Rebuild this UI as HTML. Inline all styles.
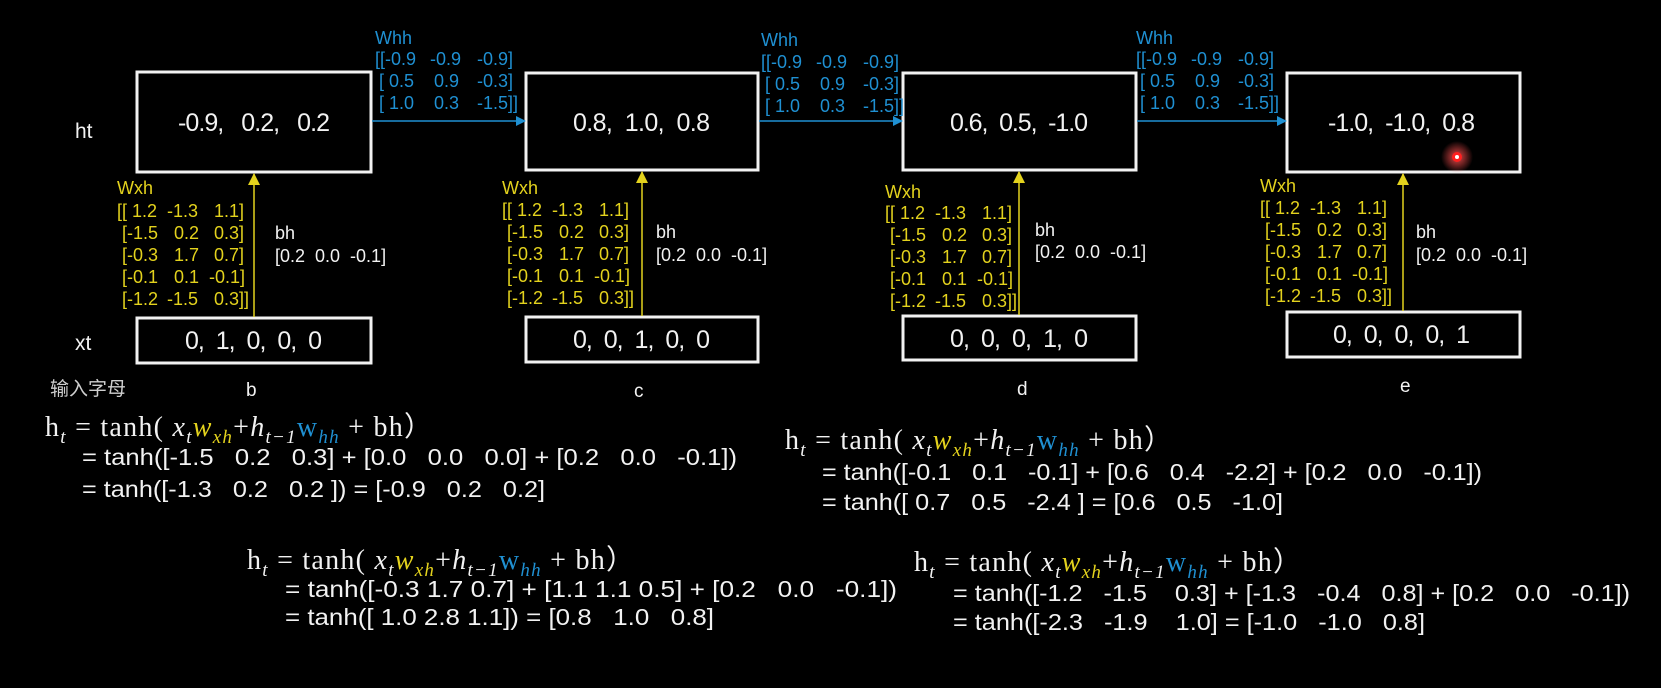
<!DOCTYPE html>
<html><head><meta charset="utf-8"><style>
html,body{margin:0;padding:0;background:#000;width:1661px;height:688px;overflow:hidden}
svg{display:block}
text{white-space:pre}
.s{font-family:"Liberation Sans","Noto Sans CJK SC",sans-serif}
.w{fill:#f2f2f2}
.y{fill:#e3d21d}
.b{fill:#1f90d2}
.m{font-size:18px}
.f{font-family:"Liberation Serif",serif;font-size:28px;fill:#f2f2f2}
.fl{font-family:"Liberation Sans",sans-serif;font-size:23px;fill:#f2f2f2}
</style></head><body>
<svg width="1661" height="688" viewBox="0 0 1661 688" xmlns="http://www.w3.org/2000/svg">
<defs>
<marker id="ab" markerWidth="10" markerHeight="10" refX="9" refY="5" orient="auto" markerUnits="userSpaceOnUse"><path d="M0,0 L10,5 L0,10 z" fill="#1f90d2"/></marker>
<marker id="ay" markerWidth="12" markerHeight="12" refX="11" refY="6" orient="auto" markerUnits="userSpaceOnUse"><path d="M0,0 L12,6 L0,12 z" fill="#e3d21d"/></marker>
<radialGradient id="glow"><stop offset="0" stop-color="#ff5050" stop-opacity="0.9"/><stop offset="1" stop-color="#ff5050" stop-opacity="0"/></radialGradient>
</defs>
<g fill="none" stroke="#f2f2f2" stroke-width="3">
<rect x="137" y="72" width="234" height="100"/><rect x="137" y="318" width="234" height="45"/>
<rect x="526" y="73" width="232" height="97"/><rect x="526" y="317" width="232" height="45"/>
<rect x="903" y="73" width="233" height="97"/><rect x="903" y="316" width="233" height="44"/>
<rect x="1287" y="73" width="233" height="99"/><rect x="1287" y="312" width="233" height="45"/>
</g>
<g stroke="#1f90d2" stroke-width="1.5">
<line x1="372" y1="121" x2="525" y2="121" marker-end="url(#ab)"/>
<line x1="759" y1="121" x2="902" y2="121" marker-end="url(#ab)"/>
<line x1="1137" y1="121" x2="1286" y2="121" marker-end="url(#ab)"/>
</g>
<g stroke="#e3d21d" stroke-width="1.5">
<line x1="254" y1="317" x2="254" y2="174" marker-end="url(#ay)"/>
<line x1="642" y1="316" x2="642" y2="172" marker-end="url(#ay)"/>
<line x1="1019" y1="315" x2="1019" y2="172" marker-end="url(#ay)"/>
<line x1="1403" y1="311" x2="1403" y2="174" marker-end="url(#ay)"/>
</g>
<circle cx="1457" cy="157" r="16" fill="url(#glow)"/>
<circle cx="1457" cy="157" r="5" fill="#ff2020"/><circle cx="1457" cy="157" r="2" fill="#fff"/>

<g class="s w" style="font-size:25px">
<text x="178" y="131" textLength="152" lengthAdjust="spacing">-0.9,   0.2,   0.2</text>
<text x="573" y="131" textLength="137" lengthAdjust="spacing">0.8,  1.0,  0.8</text>
<text x="950" y="131" textLength="138" lengthAdjust="spacing">0.6,  0.5,  -1.0</text>
<text x="1328" y="131" textLength="147" lengthAdjust="spacing">-1.0,  -1.0,  0.8</text>
<text x="185" y="349" textLength="137" lengthAdjust="spacing">0,  1,  0,  0,  0</text>
<text x="573" y="348" textLength="137" lengthAdjust="spacing">0,  0,  1,  0,  0</text>
<text x="950" y="347" textLength="138" lengthAdjust="spacing">0,  0,  0,  1,  0</text>
<text x="1333" y="343" textLength="137" lengthAdjust="spacing">0,  0,  0,  0,  1</text>
</g>
<g class="s w" style="font-size:21px">
<text x="75" y="138">ht</text><text x="75" y="350">xt</text>
<text x="246" y="396" style="font-size:19px">b</text>
<text x="634" y="397" style="font-size:19px">c</text>
<text x="1017" y="395" style="font-size:19px">d</text>
<text x="1400" y="392" style="font-size:19px">e</text>
<text x="50" y="395" style="font-size:19px;fill:#cfcfcf">输入字母</text>
</g>

<g class="s b m">
<text x="375" y="44">Whh</text>
<text y="65"><tspan x="375">[[-0.9</tspan><tspan x="430">-0.9</tspan><tspan x="477">-0.9]</tspan></text>
<text y="87"><tspan x="379">[ 0.5</tspan><tspan x="434">0.9</tspan><tspan x="477">-0.3]</tspan></text>
<text y="109"><tspan x="379">[ 1.0</tspan><tspan x="434">0.3</tspan><tspan x="477">-1.5]]</tspan></text>
<text x="761" y="46">Whh</text>
<text y="68"><tspan x="761">[[-0.9</tspan><tspan x="816">-0.9</tspan><tspan x="863">-0.9]</tspan></text>
<text y="90"><tspan x="765">[ 0.5</tspan><tspan x="820">0.9</tspan><tspan x="863">-0.3]</tspan></text>
<text y="112"><tspan x="765">[ 1.0</tspan><tspan x="820">0.3</tspan><tspan x="863">-1.5]]</tspan></text>
<text x="1136" y="44">Whh</text>
<text y="65"><tspan x="1136">[[-0.9</tspan><tspan x="1191">-0.9</tspan><tspan x="1238">-0.9]</tspan></text>
<text y="87"><tspan x="1140">[ 0.5</tspan><tspan x="1195">0.9</tspan><tspan x="1238">-0.3]</tspan></text>
<text y="109"><tspan x="1140">[ 1.0</tspan><tspan x="1195">0.3</tspan><tspan x="1238">-1.5]]</tspan></text>
</g>

<g class="s y m">
<text x="117" y="194">Wxh</text>
<text y="217"><tspan x="117">[[ 1.2</tspan><tspan x="167">-1.3</tspan><tspan x="214">1.1]</tspan></text>
<text y="239"><tspan x="122">[-1.5</tspan><tspan x="174">0.2</tspan><tspan x="214">0.3]</tspan></text>
<text y="261"><tspan x="122">[-0.3</tspan><tspan x="174">1.7</tspan><tspan x="214">0.7]</tspan></text>
<text y="283"><tspan x="122">[-0.1</tspan><tspan x="174">0.1</tspan><tspan x="209">-0.1]</tspan></text>
<text y="305"><tspan x="122">[-1.2</tspan><tspan x="167">-1.5</tspan><tspan x="214">0.3]]</tspan></text>

<text x="502" y="194">Wxh</text>
<text y="216"><tspan x="502">[[ 1.2</tspan><tspan x="552">-1.3</tspan><tspan x="599">1.1]</tspan></text>
<text y="238"><tspan x="507">[-1.5</tspan><tspan x="559">0.2</tspan><tspan x="599">0.3]</tspan></text>
<text y="260"><tspan x="507">[-0.3</tspan><tspan x="559">1.7</tspan><tspan x="599">0.7]</tspan></text>
<text y="282"><tspan x="507">[-0.1</tspan><tspan x="559">0.1</tspan><tspan x="594">-0.1]</tspan></text>
<text y="304"><tspan x="507">[-1.2</tspan><tspan x="552">-1.5</tspan><tspan x="599">0.3]]</tspan></text>

<text x="885" y="198">Wxh</text>
<text y="219"><tspan x="885">[[ 1.2</tspan><tspan x="935">-1.3</tspan><tspan x="982">1.1]</tspan></text>
<text y="241"><tspan x="890">[-1.5</tspan><tspan x="942">0.2</tspan><tspan x="982">0.3]</tspan></text>
<text y="263"><tspan x="890">[-0.3</tspan><tspan x="942">1.7</tspan><tspan x="982">0.7]</tspan></text>
<text y="285"><tspan x="890">[-0.1</tspan><tspan x="942">0.1</tspan><tspan x="977">-0.1]</tspan></text>
<text y="307"><tspan x="890">[-1.2</tspan><tspan x="935">-1.5</tspan><tspan x="982">0.3]]</tspan></text>

<text x="1260" y="192">Wxh</text>
<text y="214"><tspan x="1260">[[ 1.2</tspan><tspan x="1310">-1.3</tspan><tspan x="1357">1.1]</tspan></text>
<text y="236"><tspan x="1265">[-1.5</tspan><tspan x="1317">0.2</tspan><tspan x="1357">0.3]</tspan></text>
<text y="258"><tspan x="1265">[-0.3</tspan><tspan x="1317">1.7</tspan><tspan x="1357">0.7]</tspan></text>
<text y="280"><tspan x="1265">[-0.1</tspan><tspan x="1317">0.1</tspan><tspan x="1352">-0.1]</tspan></text>
<text y="302"><tspan x="1265">[-1.2</tspan><tspan x="1310">-1.5</tspan><tspan x="1357">0.3]]</tspan></text>
</g>

<g class="s w m">
<text x="275" y="239">bh</text><text x="275" y="262">[0.2  0.0  -0.1]</text>
<text x="656" y="238">bh</text><text x="656" y="261">[0.2  0.0  -0.1]</text>
<text x="1035" y="236">bh</text><text x="1035" y="258">[0.2  0.0  -0.1]</text>
<text x="1416" y="238">bh</text><text x="1416" y="261">[0.2  0.0  -0.1]</text>
</g>

<g>
<text class="f" x="45" y="436" textLength="387" lengthAdjust="spacing">h<tspan font-style="italic" font-size="19" dy="7">t</tspan><tspan dy="-7"> = tanh( </tspan><tspan font-style="italic">x</tspan><tspan font-style="italic" font-size="19" dy="7">t</tspan><tspan font-style="italic" dy="-7" style="fill:#e3d21d">w</tspan><tspan font-style="italic" font-size="19" dy="7" style="fill:#e3d21d">xh</tspan><tspan dy="-7">+</tspan><tspan font-style="italic">h</tspan><tspan font-style="italic" font-size="19" dy="7">t−1</tspan><tspan dy="-7" style="fill:#1f90d2">w</tspan><tspan font-style="italic" font-size="19" dy="7" style="fill:#1f90d2">hh</tspan><tspan dy="-7"> + bh）</tspan></text>
<text class="fl" x="82" y="465" textLength="655" lengthAdjust="spacingAndGlyphs">= tanh([-1.5   0.2   0.3] + [0.0   0.0   0.0] + [0.2   0.0   -0.1])</text>
<text class="fl" x="82" y="497" textLength="463" lengthAdjust="spacingAndGlyphs">= tanh([-1.3   0.2   0.2 ]) = [-0.9   0.2   0.2]</text>

<text class="f" x="247" y="569" textLength="387" lengthAdjust="spacing">h<tspan font-style="italic" font-size="19" dy="7">t</tspan><tspan dy="-7"> = tanh( </tspan><tspan font-style="italic">x</tspan><tspan font-style="italic" font-size="19" dy="7">t</tspan><tspan font-style="italic" dy="-7" style="fill:#e3d21d">w</tspan><tspan font-style="italic" font-size="19" dy="7" style="fill:#e3d21d">xh</tspan><tspan dy="-7">+</tspan><tspan font-style="italic">h</tspan><tspan font-style="italic" font-size="19" dy="7">t−1</tspan><tspan dy="-7" style="fill:#1f90d2">w</tspan><tspan font-style="italic" font-size="19" dy="7" style="fill:#1f90d2">hh</tspan><tspan dy="-7"> + bh）</tspan></text>
<text class="fl" x="285" y="597" textLength="612" lengthAdjust="spacingAndGlyphs">= tanh([-0.3 1.7 0.7] + [1.1 1.1 0.5] + [0.2   0.0   -0.1])</text>
<text class="fl" x="285" y="625" textLength="429" lengthAdjust="spacingAndGlyphs">= tanh([ 1.0 2.8 1.1]) = [0.8   1.0   0.8]</text>

<text class="f" x="785" y="449" textLength="387" lengthAdjust="spacing">h<tspan font-style="italic" font-size="19" dy="7">t</tspan><tspan dy="-7"> = tanh( </tspan><tspan font-style="italic">x</tspan><tspan font-style="italic" font-size="19" dy="7">t</tspan><tspan font-style="italic" dy="-7" style="fill:#e3d21d">w</tspan><tspan font-style="italic" font-size="19" dy="7" style="fill:#e3d21d">xh</tspan><tspan dy="-7">+</tspan><tspan font-style="italic">h</tspan><tspan font-style="italic" font-size="19" dy="7">t−1</tspan><tspan dy="-7" style="fill:#1f90d2">w</tspan><tspan font-style="italic" font-size="19" dy="7" style="fill:#1f90d2">hh</tspan><tspan dy="-7"> + bh）</tspan></text>
<text class="fl" x="822" y="480" textLength="660" lengthAdjust="spacingAndGlyphs">= tanh([-0.1   0.1   -0.1] + [0.6   0.4   -2.2] + [0.2   0.0   -0.1])</text>
<text class="fl" x="822" y="510" textLength="461" lengthAdjust="spacingAndGlyphs">= tanh([ 0.7   0.5   -2.4 ] = [0.6   0.5   -1.0]</text>

<text class="f" x="914" y="571" textLength="387" lengthAdjust="spacing">h<tspan font-style="italic" font-size="19" dy="7">t</tspan><tspan dy="-7"> = tanh( </tspan><tspan font-style="italic">x</tspan><tspan font-style="italic" font-size="19" dy="7">t</tspan><tspan font-style="italic" dy="-7" style="fill:#e3d21d">w</tspan><tspan font-style="italic" font-size="19" dy="7" style="fill:#e3d21d">xh</tspan><tspan dy="-7">+</tspan><tspan font-style="italic">h</tspan><tspan font-style="italic" font-size="19" dy="7">t−1</tspan><tspan dy="-7" style="fill:#1f90d2">w</tspan><tspan font-style="italic" font-size="19" dy="7" style="fill:#1f90d2">hh</tspan><tspan dy="-7"> + bh）</tspan></text>
<text class="fl" x="953" y="601" textLength="677" lengthAdjust="spacingAndGlyphs">= tanh([-1.2   -1.5    0.3] + [-1.3   -0.4   0.8] + [0.2   0.0   -0.1])</text>
<text class="fl" x="953" y="630" textLength="472" lengthAdjust="spacingAndGlyphs">= tanh([-2.3   -1.9    1.0] = [-1.0   -1.0   0.8]</text>
</g>
</svg>
</body></html>
